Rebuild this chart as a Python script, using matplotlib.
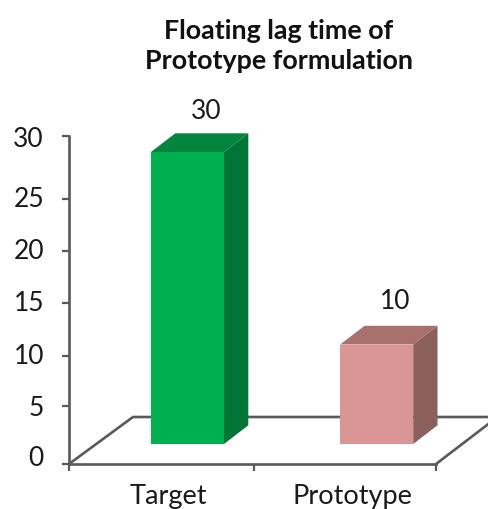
import numpy as np
import matplotlib
matplotlib.use("Agg")
import matplotlib.pyplot as plt
from matplotlib.patches import Polygon
from matplotlib.transforms import IdentityTransform

categories = ["Target", "Prototype"]
values = [30, 10]
y_ticks = [0, 5, 10, 15, 20, 25, 30]
title_lines = "Floating lag time of\nPrototype formulation"

W, H = 489, 510
LINE = "#595959"
TEXT = "#1a1a1a"
front_colors = ["#00B050", "#D99694"]
top_colors = ["#03853D", "#A8716E"]
side_colors = ["#017535", "#8B5F5C"]
plt.rcParams["font.family"] = ["Lato", "DejaVu Sans"]

fig = plt.figure(figsize=(W / 100, H / 100), dpi=100)


def px_axes(x0, x1, ytop, ybot, **kw):
    return fig.add_axes([x0 / W, 1 - ybot / H, (x1 - x0) / W, (ybot - ytop) / H], **kw)


# hand-drawn, unevenly spaced value axis of the original (value -> height in px above floor)
AX_KNOT_V = [0, 5, 10, 15, 20, 25, 30]
AX_KNOT_P = [0, 58, 108, 161, 213, 265, 328]

ax = px_axes(69, 436, 137, 465)
ax.set_yscale("function", functions=(lambda v: np.interp(v, AX_KNOT_V, AX_KNOT_P),
                                     lambda p: np.interp(p, AX_KNOT_P, AX_KNOT_V)))
ax.set_xlim(0, 2)
ax.set_ylim(0, 30)
ax.patch.set_alpha(0)
for s in ("top", "right"):
    ax.spines[s].set_visible(False)
for s in ("left", "bottom"):
    ax.spines[s].set_color(LINE)
    ax.spines[s].set_linewidth(1.9)
ax.set_yticks(y_ticks)
ax.yaxis.set_minor_locator(matplotlib.ticker.NullLocator())
ax.tick_params(axis="y", length=5, width=1.6, color=LINE, labelleft=False)
ax.set_xticks([0, 1.01, 2])
ax.tick_params(axis="x", length=5, width=1.6, color=LINE, labelbottom=False)
label_nudge = {0: 6.5, 5: -1.5, 10: 0, 15: 0, 20: 0, 25: 0, 30: -2.5}
for t in y_ticks:
    ax.annotate(str(t), (0, t), xytext=(-25, label_nudge[t]), textcoords="offset pixels",
                ha="right", va="center", fontsize=19, color=TEXT)
for i, c in enumerate(categories):
    ax.annotate(c, (i + 0.5, 0), xytext=(8, -32), textcoords="offset pixels",
                ha="center", va="center", fontsize=19.5, color=TEXT)

# floor of the chart
bg = fig.add_axes([0, 0, 1, 1], zorder=-1)
bg.set_xlim(0, W)
bg.set_ylim(H, 0)
bg.axis("off")
bg.plot([69, 133, 489], [465, 418, 418], color=LINE, lw=1.9, solid_capstyle="butt")
bg.plot([436, 489], [465, 424.5], color=LINE, lw=1.9, solid_capstyle="butt")

# bars (value -> px height follows the slightly non-linear projection of the original)
BAR_KNOT_V = [0, 10, 30]
BAR_KNOT_P = [0, 99.5, 292]
bar_step = 189.2
bar_w = 73.0
dx_px, dy_px = 24.3, 18.7
base = 445
bx = px_axes(187.5 - bar_step / 2, 376.7 + bar_step / 2, base - 292, base)
bx.set_yscale("function", functions=(lambda v: np.interp(v, BAR_KNOT_V, BAR_KNOT_P),
                                     lambda p: np.interp(p, BAR_KNOT_P, BAR_KNOT_V)))
bx.set_xlim(-0.5, 1.5)
bx.set_ylim(0, 30)
bx.axis("off")
bx.patch.set_alpha(0)
w = bar_w / bar_step
pos = np.arange(len(values))
bx.bar(pos, values, width=w, color=front_colors, linewidth=0, zorder=3, clip_on=False)
value_label_offset = [41.5, 44]
for i, v in enumerate(values):
    (xl, y0), (xr, yt) = bx.transData.transform([(i - w / 2, 0), (i + w / 2, v)])
    bx.add_patch(Polygon([(xl, yt), (xr, yt), (xr + dx_px, yt + dy_px), (xl + dx_px, yt + dy_px)],
                         closed=True, fc=top_colors[i], ec="none", zorder=3, clip_on=False,
                         transform=IdentityTransform()))
    bx.add_patch(Polygon([(xr, y0), (xr + dx_px, y0 + dy_px), (xr + dx_px, yt + dy_px), (xr, yt)],
                         closed=True, fc=side_colors[i], ec="none", zorder=3, clip_on=False,
                         transform=IdentityTransform()))
    bx.annotate(str(v), (i, v), xytext=(18.5, value_label_offset[i]), textcoords="offset pixels",
                ha="center", va="center", fontsize=19, color=TEXT, annotation_clip=False)

fig.text(279 / W, 1 - 46 / H, title_lines, ha="center", va="center", fontsize=19.4,
         fontweight="bold", color="#111111", linespacing=1.28)
fig.savefig("out.png", dpi=100)
